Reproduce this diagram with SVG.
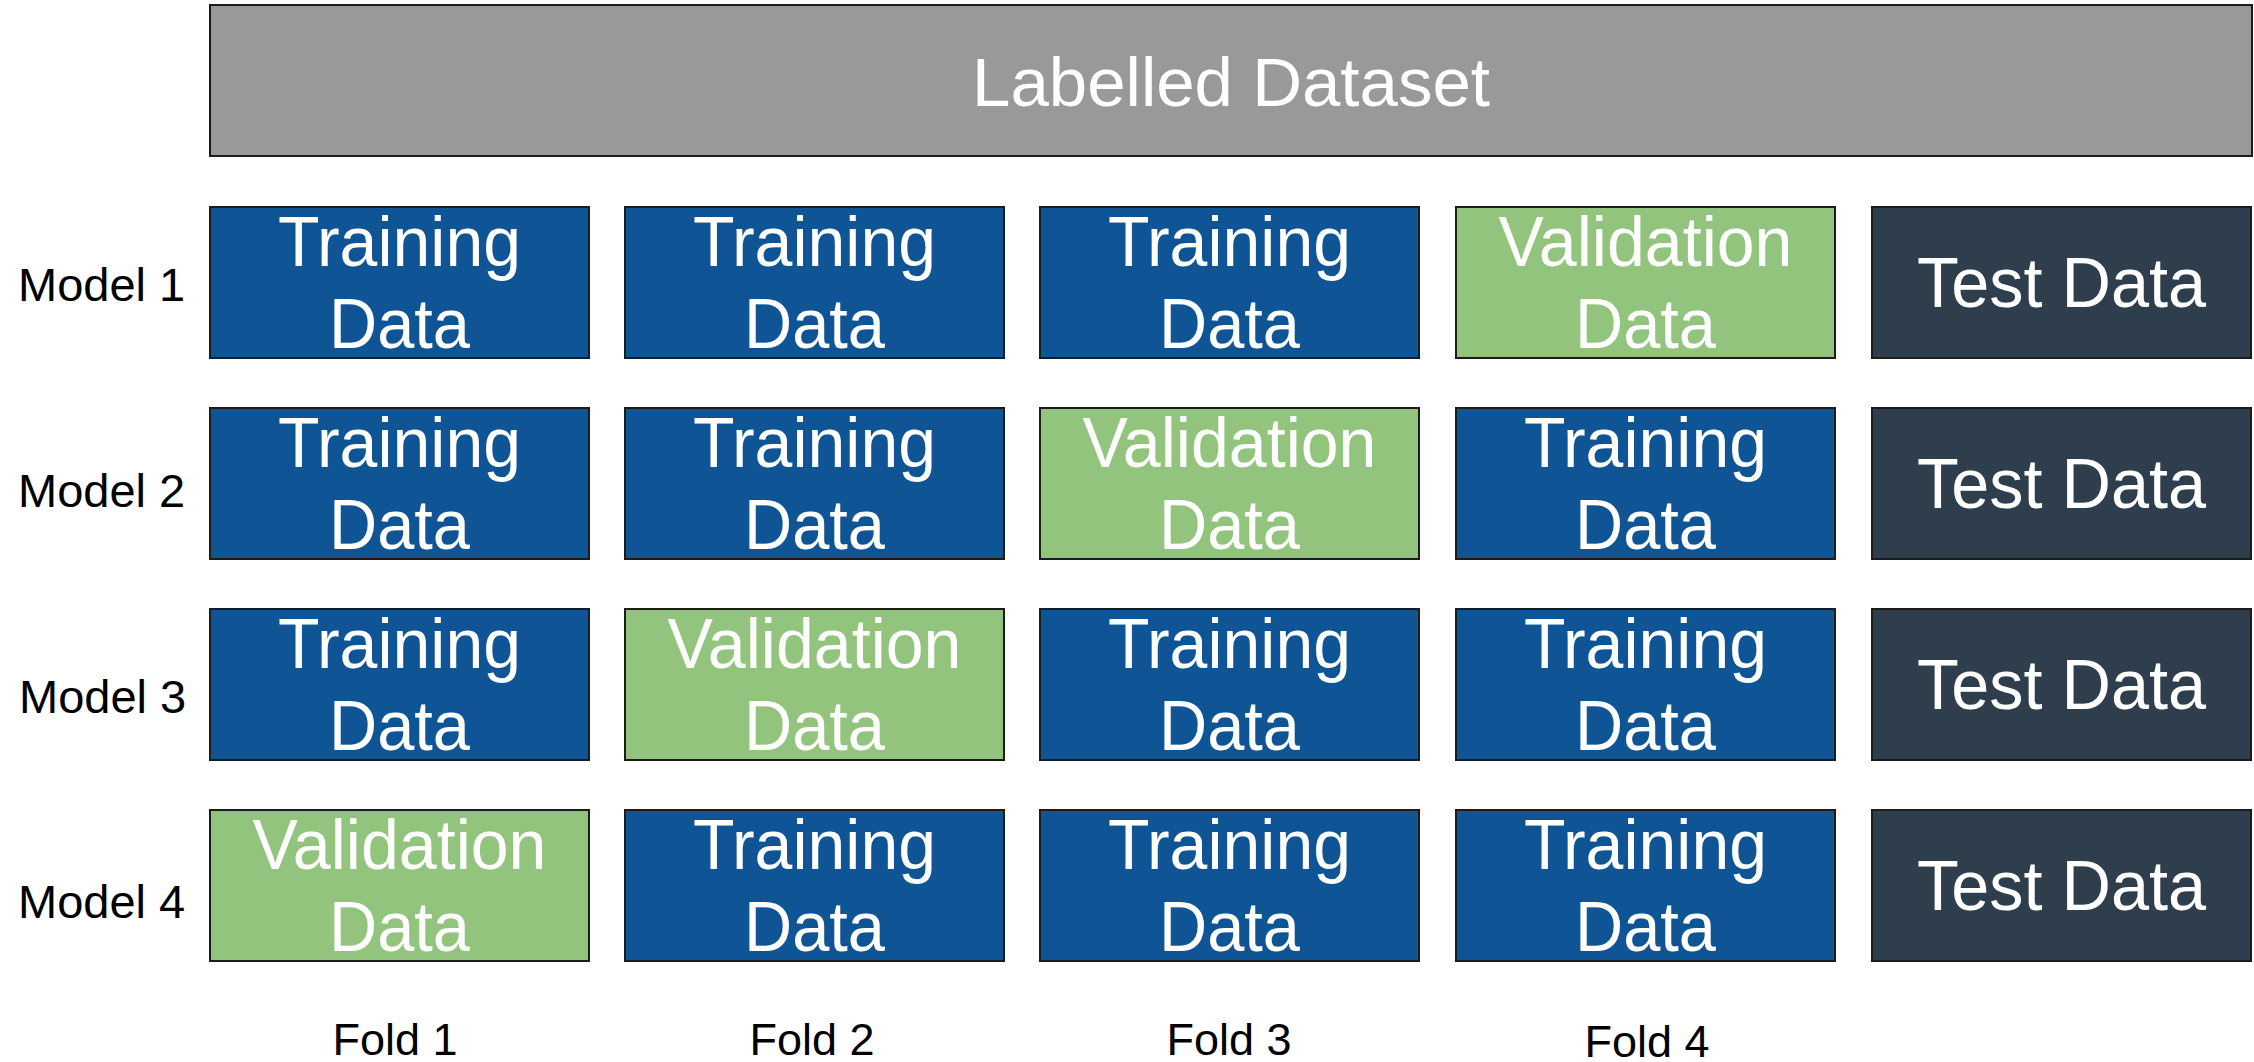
<svg xmlns="http://www.w3.org/2000/svg" width="2254" height="1062" viewBox="0 0 2254 1062">
  <style>
    .box { stroke: #1c1c1c; stroke-width: 2; }
    .dataset { fill: #999999; }
    .train { fill: #0F5495; }
    .valid { fill: #93C47D; }
    .test { fill: #2E3E4C; }
    .inner { font-family: "Liberation Sans", Arial, sans-serif; font-size: 70px; fill: #ffffff; text-anchor: middle; }
    .title { font-family: "Liberation Sans", Arial, sans-serif; font-size: 69px; fill: #ffffff; text-anchor: middle; }
    .side { font-family: "Liberation Sans", Arial, sans-serif; font-size: 47px; fill: #000000; }
    .fold { font-family: "Liberation Sans", Arial, sans-serif; font-size: 45px; fill: #000000; text-anchor: middle; }
  </style>

  <!-- whole dataset bar -->
  <g id="labelled-dataset">
    <rect class="box dataset" x="210" y="5" width="2042" height="151"/>
    <text class="title" x="1231" y="106">Labelled Dataset</text>
  </g>

  <!-- row labels -->
  <g id="row-labels">
    <text class="side" x="18" y="301">Model 1</text>
    <text class="side" x="18" y="507">Model 2</text>
    <text class="side" x="19" y="713">Model 3</text>
    <text class="side" x="18" y="918">Model 4</text>
  </g>

  <!-- Model 1 -->
  <g id="m1-f1">
    <rect class="box train" x="210" y="207" width="379" height="151"/>
    <text class="inner" x="399.5" y="266" textLength="243" lengthAdjust="spacingAndGlyphs">Training</text>
    <text class="inner" x="399.5" y="348" textLength="141" lengthAdjust="spacingAndGlyphs">Data</text>
  </g>
  <g id="m1-f2">
    <rect class="box train" x="625" y="207" width="379" height="151"/>
    <text class="inner" x="814.5" y="266" textLength="243" lengthAdjust="spacingAndGlyphs">Training</text>
    <text class="inner" x="814.5" y="348" textLength="141" lengthAdjust="spacingAndGlyphs">Data</text>
  </g>
  <g id="m1-f3">
    <rect class="box train" x="1040" y="207" width="379" height="151"/>
    <text class="inner" x="1229.5" y="266" textLength="243" lengthAdjust="spacingAndGlyphs">Training</text>
    <text class="inner" x="1229.5" y="348" textLength="141" lengthAdjust="spacingAndGlyphs">Data</text>
  </g>
  <g id="m1-f4">
    <rect class="box valid" x="1456" y="207" width="379" height="151"/>
    <text class="inner" x="1645.5" y="266" textLength="294" lengthAdjust="spacingAndGlyphs">Validation</text>
    <text class="inner" x="1645.5" y="348" textLength="141" lengthAdjust="spacingAndGlyphs">Data</text>
  </g>
  <g id="m1-test">
    <rect class="box test" x="1872" y="207" width="379" height="151"/>
    <text class="inner" x="2061.5" y="307" textLength="289" lengthAdjust="spacingAndGlyphs">Test Data</text>
  </g>

  <!-- Model 2 -->
  <g id="m2-f1">
    <rect class="box train" x="210" y="408" width="379" height="151"/>
    <text class="inner" x="399.5" y="467" textLength="243" lengthAdjust="spacingAndGlyphs">Training</text>
    <text class="inner" x="399.5" y="549" textLength="141" lengthAdjust="spacingAndGlyphs">Data</text>
  </g>
  <g id="m2-f2">
    <rect class="box train" x="625" y="408" width="379" height="151"/>
    <text class="inner" x="814.5" y="467" textLength="243" lengthAdjust="spacingAndGlyphs">Training</text>
    <text class="inner" x="814.5" y="549" textLength="141" lengthAdjust="spacingAndGlyphs">Data</text>
  </g>
  <g id="m2-f3">
    <rect class="box valid" x="1040" y="408" width="379" height="151"/>
    <text class="inner" x="1229.5" y="467" textLength="294" lengthAdjust="spacingAndGlyphs">Validation</text>
    <text class="inner" x="1229.5" y="549" textLength="141" lengthAdjust="spacingAndGlyphs">Data</text>
  </g>
  <g id="m2-f4">
    <rect class="box train" x="1456" y="408" width="379" height="151"/>
    <text class="inner" x="1645.5" y="467" textLength="243" lengthAdjust="spacingAndGlyphs">Training</text>
    <text class="inner" x="1645.5" y="549" textLength="141" lengthAdjust="spacingAndGlyphs">Data</text>
  </g>
  <g id="m2-test">
    <rect class="box test" x="1872" y="408" width="379" height="151"/>
    <text class="inner" x="2061.5" y="508" textLength="289" lengthAdjust="spacingAndGlyphs">Test Data</text>
  </g>

  <!-- Model 3 -->
  <g id="m3-f1">
    <rect class="box train" x="210" y="609" width="379" height="151"/>
    <text class="inner" x="399.5" y="668" textLength="243" lengthAdjust="spacingAndGlyphs">Training</text>
    <text class="inner" x="399.5" y="750" textLength="141" lengthAdjust="spacingAndGlyphs">Data</text>
  </g>
  <g id="m3-f2">
    <rect class="box valid" x="625" y="609" width="379" height="151"/>
    <text class="inner" x="814.5" y="668" textLength="294" lengthAdjust="spacingAndGlyphs">Validation</text>
    <text class="inner" x="814.5" y="750" textLength="141" lengthAdjust="spacingAndGlyphs">Data</text>
  </g>
  <g id="m3-f3">
    <rect class="box train" x="1040" y="609" width="379" height="151"/>
    <text class="inner" x="1229.5" y="668" textLength="243" lengthAdjust="spacingAndGlyphs">Training</text>
    <text class="inner" x="1229.5" y="750" textLength="141" lengthAdjust="spacingAndGlyphs">Data</text>
  </g>
  <g id="m3-f4">
    <rect class="box train" x="1456" y="609" width="379" height="151"/>
    <text class="inner" x="1645.5" y="668" textLength="243" lengthAdjust="spacingAndGlyphs">Training</text>
    <text class="inner" x="1645.5" y="750" textLength="141" lengthAdjust="spacingAndGlyphs">Data</text>
  </g>
  <g id="m3-test">
    <rect class="box test" x="1872" y="609" width="379" height="151"/>
    <text class="inner" x="2061.5" y="709" textLength="289" lengthAdjust="spacingAndGlyphs">Test Data</text>
  </g>

  <!-- Model 4 -->
  <g id="m4-f1">
    <rect class="box valid" x="210" y="810" width="379" height="151"/>
    <text class="inner" x="399.5" y="869" textLength="294" lengthAdjust="spacingAndGlyphs">Validation</text>
    <text class="inner" x="399.5" y="951" textLength="141" lengthAdjust="spacingAndGlyphs">Data</text>
  </g>
  <g id="m4-f2">
    <rect class="box train" x="625" y="810" width="379" height="151"/>
    <text class="inner" x="814.5" y="869" textLength="243" lengthAdjust="spacingAndGlyphs">Training</text>
    <text class="inner" x="814.5" y="951" textLength="141" lengthAdjust="spacingAndGlyphs">Data</text>
  </g>
  <g id="m4-f3">
    <rect class="box train" x="1040" y="810" width="379" height="151"/>
    <text class="inner" x="1229.5" y="869" textLength="243" lengthAdjust="spacingAndGlyphs">Training</text>
    <text class="inner" x="1229.5" y="951" textLength="141" lengthAdjust="spacingAndGlyphs">Data</text>
  </g>
  <g id="m4-f4">
    <rect class="box train" x="1456" y="810" width="379" height="151"/>
    <text class="inner" x="1645.5" y="869" textLength="243" lengthAdjust="spacingAndGlyphs">Training</text>
    <text class="inner" x="1645.5" y="951" textLength="141" lengthAdjust="spacingAndGlyphs">Data</text>
  </g>
  <g id="m4-test">
    <rect class="box test" x="1872" y="810" width="379" height="151"/>
    <text class="inner" x="2061.5" y="910" textLength="289" lengthAdjust="spacingAndGlyphs">Test Data</text>
  </g>

  <!-- column labels -->
  <g id="fold-labels">
    <text class="fold" x="395" y="1055">Fold 1</text>
    <text class="fold" x="812" y="1055">Fold 2</text>
    <text class="fold" x="1229" y="1055">Fold 3</text>
    <text class="fold" x="1647" y="1057">Fold 4</text>
  </g>
</svg>
